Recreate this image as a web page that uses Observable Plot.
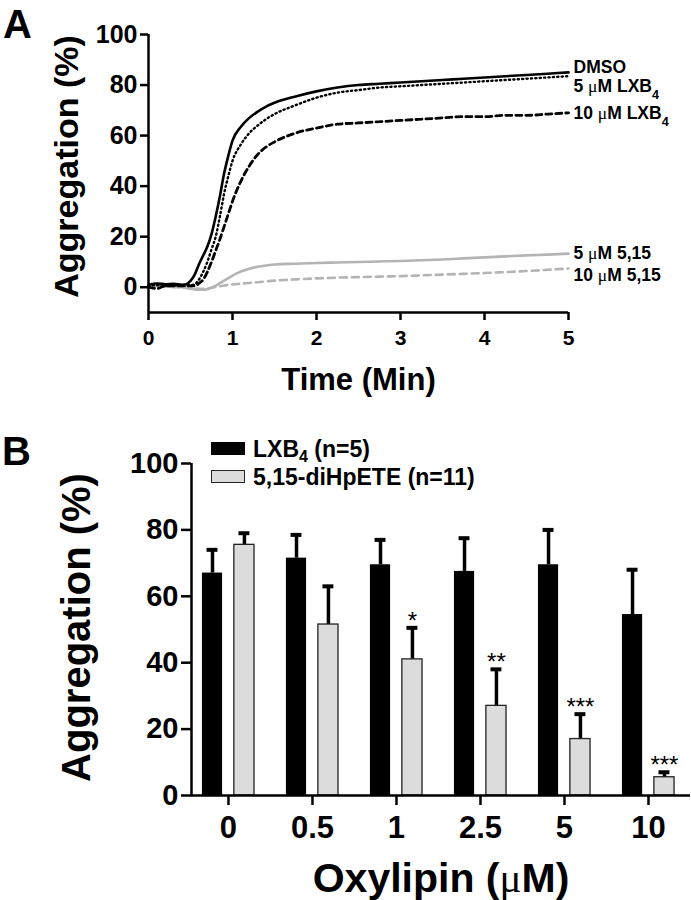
<!DOCTYPE html>
<html>
<head>
<meta charset="utf-8">
<script src="https://cdn.jsdelivr.net/npm/d3@7"></script>
<script src="https://cdn.jsdelivr.net/npm/@observablehq/plot@0.6"></script>
<style>
  body { margin: 0; background: #fff; }
  #wrap { position: relative; width: 691px; height: 900px; overflow: hidden;
          font-family: "Liberation Sans", Arial, sans-serif; font-weight: bold; color: #000; }
  .panel { position: absolute; left: 0; }
  .plabel { position: absolute; font-size: 40px; font-weight: bold; line-height: 1.1; }
  .leg { position: absolute; left: 211px; font-size: 23px; line-height: 1; white-space: nowrap; }
  .leg .sw { position: absolute; left: 0; top: 0; width: 34px; height: 13px; box-sizing: border-box; }
  .leg .tx { position: absolute; left: 42px; top: -4px; }
  .leg sub { font-size: 0.7em; position: relative; top: 0.3em; vertical-align: baseline; line-height: 0; }
</style>
</head>
<body>
<div id="wrap">
  <div id="panelA" class="panel" style="top:0px"></div>
  <div id="panelB" class="panel" style="top:420px"></div>
  <div class="plabel" style="left:3px;top:2px">A</div>
  <div class="plabel" style="left:2px;top:429px">B</div>
  <div id="legend"></div>
</div>
<script>
// ---------------- Panel A data ----------------
const time = [0,0.1,0.2,0.3,0.4,0.45,0.5,0.55,0.6,0.65,0.7,0.75,0.8,0.85,0.9,0.95,1.0,1.1,1.2,1.3,1.4,1.5,1.75,2.0,2.25,2.5,2.75,3.0,3.25,3.5,3.75,4.0,4.25,4.5,4.75,5.0];
const dmso    = [1,1.5,1.2,1.4,1.0, 1.2,2.5,5,9,12.5,16,21,28,36,45,52, 58,63.5,67,69.5,71.5,73, 75.5,77.5,79,80,80.5,81,81.5,82,82.5,83,83.5,84,84.5,85];
const lxb4_5  = [0.5,0.8,0.6,0.8,0.6, 0.7,0.8,1.2,3,6,10,15,20,28,37,44, 50,56.5,61,64,66.5,68.5, 72,75,77,78,79,79.5,80,80.5,81,81.5,82,82.5,83,83.5];
const lxb4_10 = [0,-0.5,0.5,0.5,0.5, 0.5,0.5,0.5,1.5,3,6,10,14.5,19,24,29, 34,42,48,52.5,55.5,57.5, 61,63,64.5,65,65.5,66,66.5,67,67.5,67.5,68,68,68.5,69];
const hp_5    = [0.5,0.5,0.3,0.2,0, -0.3,-0.6,-0.9,-1,-1,-0.8,-0.2,0.6,1.6,2.6,3.6, 4.6,6.2,7.3,8.1,8.6,9, 9.3,9.6,9.8,10,10.2,10.4,10.7,11,11.4,11.8,12.2,12.6,12.9,13.3];
const hp_10   = [0.3,0.2,0.2,0,0, -0.2,-0.4,-0.5,-0.6,-0.6,-0.5,-0.2,0.1,0.4,0.7,0.9, 1.1,1.4,1.7,2.0,2.3,2.6, 3.1,3.5,3.8,4.0,4.2,4.4,4.7,5.0,5.3,5.6,6.0,6.4,6.9,7.4];
const seriesNamesA = ["DMSO", "5 μM LXB₄", "10 μM LXB₄", "5 μM 5,15", "10 μM 5,15"];
const seriesValuesA = [dmso, lxb4_5, lxb4_10, hp_5, hp_10];
const xTicksA = [0, 1, 2, 3, 4, 5];
const yTicksA = [0, 20, 40, 60, 80, 100];
const titleAx = "Time (Min)";
const titleAy = "Aggregation (%)";

// ---------------- Panel B data ----------------
const doses   = ["0", "0.5", "1", "2.5", "5", "10"];
const lxb4Mean = [67, 71.5, 69.5, 67.5, 69.5, 54.5];
const lxb4Sem  = [7, 7, 7.5, 10, 10.5, 13.5];
const hpMean   = [75.5, 51.5, 41, 27, 17, 5.5];
const hpSem    = [3.5, 11.5, 9.5, 11, 7.5, 1.5];
const signif   = ["", "", "*", "**", "***", "***"];
const legendB  = ["LXB₄ (n=5)", "5,15-diHpETE (n=11)"];
const yTicksB  = [0, 20, 40, 60, 80, 100];
const titleBx  = "Oxylipin (μM)";
const titleBy  = "Aggregation (%)";

// ---------------- styles ----------------
const FONT = "Liberation Sans, Arial, sans-serif";
const lineStyles = [
  {stroke: "#000", strokeWidth: 2.6},
  {stroke: "#000", strokeWidth: 2.4, strokeDasharray: "1.2,3.2", strokeLinecap: "round"},
  {stroke: "#000", strokeWidth: 2.8, strokeDasharray: "6,4"},
  {stroke: "#b4b4b4", strokeWidth: 2.6},
  {stroke: "#b4b4b4", strokeWidth: 2.6, strokeDasharray: "7,5"}
];
const labelDy = [-5, 10, 1, 0, 7];
const drawOrder = [3, 4, 2, 1, 0];

// ---------------- Panel A ----------------
const linesA = drawOrder.map(k =>
  Plot.line(time.map((t, i) => ({t, v: seriesValuesA[k][i]})),
    {x: "t", y: "v", curve: "monotone-x", ...lineStyles[k]}));
const labelsA = seriesNamesA.map((name, k) =>
  Plot.text([{t: time[time.length - 1], v: seriesValuesA[k][seriesValuesA[k].length - 1], name}],
    {x: "t", y: "v", text: "name", dx: 5, dy: labelDy[k], textAnchor: "start", fontSize: 17.5, fontWeight: "bold"}));

const plotA = Plot.plot({
  width: 691, height: 420,
  marginLeft: 148, marginRight: 123, marginTop: 34, marginBottom: 108,
  style: {fontFamily: FONT, fontWeight: "bold", color: "#000", background: "transparent", overflow: "visible"},
  x: {domain: [0, 5]},
  y: {domain: [-10, 100]},
  marks: [
    ...linesA,
    Plot.ruleX([0], {strokeWidth: 2.5}),
    Plot.ruleY([-10], {strokeWidth: 2.5}),
    Plot.axisY({ticks: yTicksA, tickSize: 8, tickPadding: 3, fontSize: 25, strokeWidth: 2.5, label: null}),
    Plot.axisX({ticks: xTicksA, tickFormat: d => String(d), tickSize: 8, tickPadding: 10, fontSize: 21, strokeWidth: 2.5, label: null}),
    ...labelsA,
    Plot.text([titleAx], {frameAnchor: "bottom", dy: 68, fontSize: 31, fontWeight: "bold", lineAnchor: "middle", textAnchor: "middle"}),
    Plot.text([titleAy], {frameAnchor: "left", dx: -81, dy: -7, rotate: -90, fontSize: 34, fontWeight: "bold", lineAnchor: "middle", textAnchor: "middle"})
  ]
});
document.getElementById("panelA").appendChild(plotA);

// ---------------- Panel B ----------------
const rowsB = doses.map((d, i) => ({i, d, lm: lxb4Mean[i], ls: lxb4Sem[i], hm: hpMean[i], hs: hpSem[i], sig: signif[i]}));
const BL = [-0.31, -0.07], GR = [0.07, 0.31], CAP = 0.065;
const cB = d => d.i + (BL[0] + BL[1]) / 2;
const cG = d => d.i + (GR[0] + GR[1]) / 2;
const plotB = Plot.plot({
  width: 691, height: 480,
  marginLeft: 191, marginRight: 1, marginTop: 43, marginBottom: 105,
  style: {fontFamily: FONT, fontWeight: "bold", color: "#000", background: "transparent", overflow: "visible"},
  x: {domain: [-0.44, 5.5]},
  y: {domain: [0, 100]},
  marks: [
    // error bars (upper only)
    Plot.ruleX(rowsB, {x: cB, y1: "lm", y2: d => d.lm + d.ls, strokeWidth: 3.5}),
    Plot.ruleY(rowsB, {y: d => d.lm + d.ls, x1: d => cB(d) - CAP, x2: d => cB(d) + CAP, strokeWidth: 4}),
    Plot.ruleX(rowsB, {x: cG, y1: "hm", y2: d => d.hm + d.hs, strokeWidth: 3.5}),
    Plot.ruleY(rowsB, {y: d => d.hm + d.hs, x1: d => cG(d) - CAP, x2: d => cG(d) + CAP, strokeWidth: 4}),
    // bars
    Plot.rect(rowsB, {x1: d => d.i + BL[0], x2: d => d.i + BL[1], y1: 0, y2: "lm", fill: "#000"}),
    Plot.rect(rowsB, {x1: d => d.i + GR[0], x2: d => d.i + GR[1], y1: 0, y2: "hm", fill: "#dcdcdc", stroke: "#222", strokeWidth: 1.3}),
    // significance
    Plot.text(rowsB, {x: cG, y: d => d.hm + d.hs, text: "sig", lineAnchor: "bottom", dy: 1, fontSize: 24, fontWeight: "normal"}),
    // axis lines
    Plot.ruleX([-0.44], {strokeWidth: 2.5}),
    Plot.ruleY([0], {strokeWidth: 2.5}),
    Plot.axisY({ticks: yTicksB, tickSize: 10, tickPadding: 3, fontSize: 29, strokeWidth: 2.5, label: null}),
    Plot.axisX({ticks: doses.map((d, i) => i), tickFormat: i => doses[i], tickSize: 10, tickPadding: 10, fontSize: 31, strokeWidth: 2.5, label: null}),
    Plot.text([titleBx], {frameAnchor: "bottom", dy: 83, fontSize: 41, fontWeight: "bold", lineAnchor: "middle", textAnchor: "middle"}),
    Plot.text([titleBy], {frameAnchor: "left", dx: -114, dy: -2, rotate: -90, fontSize: 40, fontWeight: "bold", lineAnchor: "middle", textAnchor: "middle"})
  ]
});
document.getElementById("panelB").appendChild(plotB);

// post-process text: subscript "₄" and a light serif μ, as in the reference
function styleGlyphs(root) {
  root.querySelectorAll("text, tspan").forEach(el => {
    for (const node of [...el.childNodes]) {
      if (node.nodeType !== 3 || !/[₄μ]/.test(node.nodeValue)) continue;
      const frag = document.createDocumentFragment();
      for (const part of node.nodeValue.split(/([₄μ])/)) {
        if (!part) continue;
        if (part === "₄") {
          const ts = document.createElementNS("http://www.w3.org/2000/svg", "tspan");
          ts.setAttribute("baseline-shift", "sub");
          ts.setAttribute("font-size", "0.72em");
          ts.textContent = "4";
          frag.appendChild(ts);
        } else if (part === "μ") {
          const ts = document.createElementNS("http://www.w3.org/2000/svg", "tspan");
          ts.setAttribute("font-family", "Liberation Serif, serif");
          ts.setAttribute("font-weight", "normal");
          ts.textContent = "μ";
          frag.appendChild(ts);
        } else {
          frag.appendChild(document.createTextNode(part));
        }
      }
      el.replaceChild(frag, node);
    }
  });
}
styleGlyphs(plotA);
styleGlyphs(plotB);

// legend for panel B
const legFills = ["#000", "#dcdcdc"];
const legTops = [442, 470];
const legend = document.getElementById("legend");
legendB.forEach((name, k) => {
  const div = document.createElement("div");
  div.className = "leg";
  div.style.top = legTops[k] + "px";
  const sw = document.createElement("span");
  sw.className = "sw";
  sw.style.background = legFills[k];
  if (k === 1) sw.style.border = "1.5px solid #222";
  const tx = document.createElement("span");
  tx.className = "tx";
  tx.innerHTML = name.replace("₄", "<sub>4</sub>");
  div.appendChild(sw); div.appendChild(tx);
  legend.appendChild(div);
});
</script>
</body>
</html>
